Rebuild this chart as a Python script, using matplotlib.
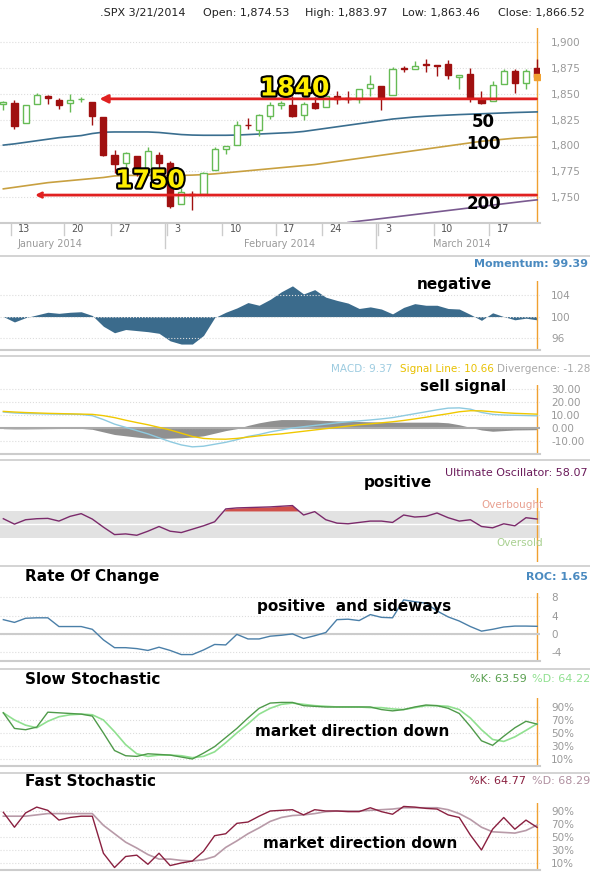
import matplotlib
matplotlib.use("Agg")
import matplotlib.pyplot as plt
import matplotlib.patheffects as pe
from matplotlib import font_manager
import numpy as np

W, H = 590, 882

# trading days 2014-01-10 .. 2014-03-21
opens = [1840, 1841, 1821.4, 1840.5, 1848, 1844.2, 1841, 1844.7, 1842.3, 1827, 1791, 1783, 1790, 1777, 1791,
         1782.7, 1743.8, 1753.4, 1753, 1776, 1796.2, 1800.5, 1820.1, 1814.9, 1828.5, 1839, 1838.8, 1829.2, 1841,
         1836.8, 1847.7, 1845.8, 1844.9, 1855.1, 1857.7, 1849.2, 1874, 1874.2, 1878.5, 1877.9, 1878.3, 1866.2,
         1869.1, 1845.1, 1842.8, 1858.9, 1872.3, 1860.1, 1874.5]
highs = [1843.2, 1843.5, 1839.3, 1850.8, 1848.6, 1846, 1849.3, 1846.9, 1842.3, 1827, 1796, 1793.9, 1790, 1798.8,
         1793.9, 1784.8, 1758.7, 1755.8, 1774.1, 1798, 1799.9, 1823.5, 1826.6, 1830.3, 1841.7, 1842.9, 1847.5,
         1842.1, 1846.5, 1858.7, 1852.9, 1852.7, 1854.5, 1867.9, 1857.7, 1876.2, 1876.5, 1881.9, 1883.6, 1877.9,
         1882.4, 1868.4, 1874.4, 1852.4, 1862.3, 1873.8, 1874.1, 1873.5, 1884]
lows = [1834, 1815.5, 1821.4, 1840, 1840, 1835, 1832, 1842, 1820, 1790, 1772.9, 1779.5, 1770.5, 1777, 1772.3,
        1739.7, 1743.8, 1737.9, 1753, 1776, 1791.8, 1800.5, 1816, 1809.2, 1825.6, 1835, 1827, 1824.9, 1835.6,
        1836.8, 1840.2, 1840.7, 1841.1, 1847.7, 1834.4, 1849.2, 1871.3, 1874.2, 1870.6, 1867, 1863.9, 1854.4,
        1841.9, 1839.6, 1842.8, 1858.9, 1850.4, 1854.6, 1863.5]
closes = [1842.4, 1819.2, 1838.9, 1848.4, 1845.9, 1838.7, 1843.8, 1844.9, 1828.5, 1790.3, 1781.6, 1792.5, 1774.2,
          1794.2, 1782.6, 1741.9, 1755.2, 1751.6, 1773.4, 1797, 1799.8, 1819.8, 1819.3, 1829.8, 1838.6, 1840.8,
          1828.8, 1839.8, 1836.3, 1847.6, 1845.1, 1845.2, 1854.3, 1859.5, 1845.7, 1873.9, 1873.8, 1877, 1878,
          1877.2, 1867.6, 1868.2, 1846.3, 1841.1, 1858.8, 1872.3, 1860.8, 1872, 1866.5]
ma50 = [1800.3, 1801.5, 1803, 1804.5, 1806, 1807.5, 1808.5, 1809.5, 1811.5, 1812.8, 1813, 1813, 1813, 1813, 1812.5,
        1811.5, 1810.5, 1810, 1809.8, 1809.8, 1809.8, 1810, 1810.5, 1811, 1811.5, 1812, 1812.5, 1813.5, 1815,
        1816.5, 1818, 1819.5, 1821, 1822.5, 1824, 1825.5, 1826.5, 1827.5, 1828.2, 1828.8, 1829.3, 1829.8, 1830.2,
        1830.6, 1831, 1831.4, 1831.8, 1832.1, 1832.4]
ma100 = [1758, 1759.5, 1761, 1762.5, 1764, 1765, 1766, 1767, 1768, 1769, 1770.5, 1771, 1771, 1771, 1771, 1771,
         1771, 1771.3, 1771.8, 1772.5, 1773.5, 1774.5, 1775.5, 1776.5, 1777.5, 1778.5, 1779.5, 1780.5, 1781.5,
         1783, 1784.5, 1786, 1787.5, 1789, 1790.5, 1792, 1793.5, 1795, 1796.5, 1798, 1799.5, 1801, 1802.5, 1804,
         1805, 1806, 1807, 1807.6, 1808.2]
ma200 = [np.nan] * 31 + [1725.5, 1726.8, 1728, 1729.3, 1730.6, 1731.9, 1733.2, 1734.5, 1735.8, 1737.1, 1738.4,
                         1739.7, 1741, 1742.3, 1743.6, 1744.9, 1746.2, 1747.4]

momentum = [100, 99, 99.8, 100.3, 100.8, 100.6, 100.8, 100.9, 100.2, 98.2, 97, 97.6, 97.4, 97.2, 96.9, 95.5, 94.9,
            94.9, 96.5, 99.8, 100.8, 101.6, 102.6, 102.1, 103.2, 104.6, 105.7, 104.2, 105, 103.6, 103, 102.5, 101.5,
            101.8, 101.4, 100.5, 101.7, 102.4, 102.1, 102.1, 101.5, 101.4, 100.4, 99.3, 100.7, 100, 99.4, 99.7, 99.39]
macd = [12.3, 11.6, 11.2, 11, 10.8, 10.7, 10.6, 10.4, 9.5, 6.5, 3, 0.5, -2, -4.5, -7.5, -10.5, -13, -14.5, -14,
        -12.5, -11, -9, -6.5, -5, -3, -1.5, 0, 1, 2, 3, 4, 4.8, 5.5, 6.2, 7, 8, 9.5, 11, 12.5, 14, 15.3, 15.5, 14.5,
        12, 10.5, 10, 9.8, 9.6, 9.37]
signal = [12.8, 12.3, 11.9, 11.6, 11.3, 11.1, 10.9, 10.7, 10.5, 9.5, 8, 6, 4.2, 2.5, 0.5, -1.5, -4, -6.5, -8, -8.5,
          -8.6, -8, -7, -6, -5.2, -4.5, -3.5, -2.5, -1.5, -0.5, 0.5, 1.5, 2.5, 3.2, 4, 4.8, 5.8, 7, 8.3, 9.7, 11,
          12.5, 13.3, 13.2, 12.5, 11.8, 11.3, 11, 10.66]
divergence = [-0.5, -0.7, -0.7, -0.6, -0.5, -0.4, -0.3, -0.3, -1, -3, -5, -6, -7, -7.8, -8, -7.8, -7.5, -7, -6,
              -4, -2, -0.5, 2, 4, 5.5, 6.5, 6.5, 6.5, 6.2, 5.8, 5.5, 5.2, 5, 4.8, 4.6, 4.5, 4.5, 4.5, 4.5, 4.5, 4,
              2.5, 0.5, -1.5, -2.5, -2, -1.5, -1.4, -1.28]
uo = [58.5, 50.5, 57, 58.5, 59, 55, 62, 66, 58, 46, 35, 36, 34, 40, 47, 40, 38, 43, 48, 54, 73, 74.5, 75, 75.5, 76,
      77, 78, 64, 69, 57, 52, 51, 53, 55, 55, 53, 64, 61, 62, 67, 60, 55, 57, 47, 45, 51, 48, 60, 58.07]
roc = [3.1, 2.5, 3.4, 3.5, 3.5, 1.6, 1.6, 1.6, 1, -1.3, -3, -3, -3.2, -3.6, -2.9, -3.6, -4.5, -4.5, -3.5, -2.3,
       -2.4, -0.1, -1.1, -1.1, -0.5, -0.3, 0, -1, -0.4, 0.3, 3.1, 3.2, 2.9, 4.2, 3.6, 3.5, 7.4, 7, 6.7, 5, 3.7, 2.8,
       1.6, 0.6, 1, 1.5, 1.7, 1.7, 1.65]
slow_k = [81, 57, 55, 59, 82, 81, 80, 79, 76, 50, 23, 15, 14, 18, 17, 16, 13, 10, 19, 29, 43, 57, 73, 88, 96, 97, 97,
          92, 91, 90, 90, 90, 90, 90, 86, 84, 86, 90, 93, 92, 88, 80, 60, 38, 31, 45, 58, 68, 63.59]
slow_d = [81, 70, 62, 58, 68, 75, 78, 79, 78, 70, 52, 32, 18, 14, 16, 16, 15, 12, 14, 21, 35, 50, 64, 79, 88, 94, 96,
          94, 92, 91, 90, 90, 90, 89, 89, 87, 86, 89, 92, 92, 91, 86, 73, 55, 40, 37, 44, 54, 64.22]
fast_k = [88, 65, 87, 96, 91, 76, 80, 82, 82, 25, 3, 20, 22, 8, 25, 6, 10, 13, 28, 52, 55, 71, 73, 82, 90, 91, 92, 84,
          92, 90, 90, 89, 89, 95, 89, 85, 97, 96, 94, 93, 84, 80, 53, 30, 62, 80, 62, 76, 64.77]
fast_d = [82, 82, 82, 84, 86, 86, 86, 86, 86, 68, 55, 42, 33, 23, 16, 16, 14, 13, 15, 20, 34, 44, 55, 64, 74, 80, 83,
          84, 86, 89, 90, 90, 90, 91, 92, 93, 95, 95, 95, 95, 92, 86, 77, 65, 58, 57, 56, 60, 68.29]

day_ticks = [1, 5.8, 10, 15, 20, 24.8, 29, 34, 39, 44]
day_labels = ["13", "20", "27", "3", "10", "17", "24", "3", "10", "17"]
months = ["January 2014", "February 2014", "March 2014"]
month_x = [50, 280, 462]

# narrow bold font for the hand-written notes
names = {f.name for f in font_manager.fontManager.ttflist}
NOTE = ["Liberation Sans Narrow"] if "Liberation Sans Narrow" in names else ["DejaVu Sans"]
NOTE_FS = 13 if NOTE[0] == "Liberation Sans Narrow" else 11

x = np.arange(len(closes))
fig = plt.figure(figsize=(W / 100, H / 100), dpi=100)
GRAY = "#999999"
ORANGE = "#f0a030"
AX_W = 540
XL = (-0.3, -0.3 + AX_W / 11.12)


def px_axes(top, bottom, ylim, ticks, labels):
    ax = fig.add_axes([0, 1 - bottom / H, AX_W / W, (bottom - top) / H])
    ax.set_xlim(*XL)
    ax.set_ylim(*ylim)
    for s in ["top", "left", "right"]:
        ax.spines[s].set_visible(False)
    ax.spines["bottom"].set_color("#cccccc")
    ax.spines["bottom"].set_linewidth(1.5)
    ax.set_xticks([])
    ax.yaxis.tick_right()
    ax.set_yticks(ticks)
    ax.set_yticklabels(labels, fontsize=7.5, color=GRAY)
    ax.tick_params(axis="y", length=0, pad=8)
    ax.grid(axis="y", color="#dddddd", linestyle=":", linewidth=0.8)
    ax.axvline(48, color=ORANGE, lw=1)
    ax.set_facecolor("none")
    return ax


def sep(y):
    fig.add_artist(plt.Line2D([0, 1], [1 - y / H, 1 - y / H], color="#cccccc", lw=1.2))


def label(xp, yp, s, **kw):
    fig.text(xp / W, 1 - yp / H, s, va="center", **kw)


def note(xp, yp, s, ha="center"):
    label(xp, yp, s, fontsize=NOTE_FS, fontweight="bold", ha=ha, family=NOTE)


# header
hdr = [(100, ".SPX 3/21/2014"), (203, "Open: 1,874.53"), (305, "High: 1,883.97"),
       (402, "Low: 1,863.46"), (498, "Close: 1,866.52")]
for hx, s in hdr:
    label(hx, 13, s, fontsize=8, color="#222222")

# price panel
ax = px_axes(28, 223, (1725, 1913.5), [1750, 1775, 1800, 1825, 1850, 1875, 1900],
             ["1,750", "1,775", "1,800", "1,825", "1,850", "1,875", "1,900"])
ax.plot(x, ma50, color="#3a6e8f", lw=1.2)
ax.plot(x, ma100, color="#c8a040", lw=1.2)
ax.plot(x, ma200, color="#7a5a90", lw=1.2)
for i in range(len(closes)):
    up = closes[i] >= opens[i]
    col = "#66bb55" if up else "#a01010"
    ax.vlines(i, lows[i], highs[i], color=col, lw=1)
    lo, hi = min(opens[i], closes[i]), max(opens[i], closes[i])
    ax.bar(i, max(hi - lo, 0.6), bottom=lo, width=0.55, color="white" if up else col,
           edgecolor=col, lw=1, zorder=3)
ax.plot(48, closes[-1], "s", color="#f0a030", ms=4, zorder=4)
ax.annotate("", xy=(8.4, 1845), xytext=(48.2, 1845),
            arrowprops=dict(arrowstyle="-|>", color="#e02020", lw=2, mutation_scale=12))
ax.annotate("", xy=(2.6, 1752), xytext=(48.2, 1752),
            arrowprops=dict(arrowstyle="->", color="#e02020", lw=2, mutation_scale=8))
for tx, ty, s in [(26.2, 1855, "1840"), (13.2, 1766, "1750")]:
    ax.text(tx, ty, s, fontsize=18, fontweight="bold", color="#ffee00", ha="center", va="center",
            family=NOTE, path_effects=[pe.withStroke(linewidth=3, foreground="black")], zorder=5)
for tx, ty, s in [(43.2, 1823, "50"), (43.2, 1801, "100"), (43.2, 1743, "200")]:
    ax.text(tx, ty, s, fontsize=NOTE_FS + 1, fontweight="bold", color="black", ha="center", va="center",
            family=NOTE, zorder=5)
for t, s in zip(day_ticks, day_labels):
    ax.axvline(t - 0.3, ymin=-0.06, ymax=0, color="#cccccc", lw=1, clip_on=False)
    ax.text(t + 0.35, 1725 - 6, s, fontsize=7, color="#555555", ha="left", va="center")
for t in [14.55, 33.55]:
    ax.axvline(t, ymin=-0.13, ymax=0, color="#cccccc", lw=1, clip_on=False)
for mx, s in zip(month_x, months):
    label(mx, 244, s, fontsize=7, color=GRAY, ha="center")
sep(256)

# momentum
ax = px_axes(281, 350, (93.8, 106.6), [96, 100, 104], ["96", "100", "104"])
ax.fill_between(x, momentum, 100, color="#3b6b8c", lw=0)
label(588, 264, "Momentum: 99.39", fontsize=8, color="#4a8ac0", ha="right", fontweight="bold")
note(454, 284, "negative")
sep(356)

# MACD
ax = px_axes(385, 454, (-20, 33.1), [-10, 0, 10, 20, 30], ["-10.00", "0.00", "10.00", "20.00", "30.00"])
ax.fill_between(x, divergence, 0, color="#909090", lw=0)
ax.axhline(0, color="#aaaaaa", lw=1.5)
ax.plot(x, macd, color="#8ecae0", lw=1)
ax.plot(x, signal, color="#f0c800", lw=1)
label(590, 369, "Divergence: -1.28", fontsize=7.5, color="#aaaaaa", ha="right")
label(494, 369, "Signal Line: 10.66", fontsize=7.5, color="#e8c000", ha="right")
label(392, 369, "MACD: 9.37", fontsize=7.5, color="#9ccbe0", ha="right")
note(463, 386, "sell signal")
sep(460)

# Ultimate oscillator
ax = px_axes(488, 562, (-5.6, 104), [], [])
ax.grid(False)
ax.spines["bottom"].set_visible(False)
ax.axhspan(30, 70, color="#e2e2e2", lw=0)
ax.axhline(50, color="white", lw=1)
ax.fill_between(x, uo, 70, where=np.array(uo) > 70, interpolate=True, color="#d0504a", lw=0)
ax.plot(x, uo, color="#7b2a6b", lw=1)
label(588, 473, "Ultimate Oscillator: 58.07", fontsize=8, color="#6a1a5a", ha="right")
label(543, 505, "Overbought", fontsize=7.5, color="#e8a090", ha="right")
label(543, 543, "Oversold", fontsize=7.5, color="#a8d090", ha="right")
note(398, 482, "positive")
sep(566)

# ROC
ax = px_axes(593, 661, (-5.9, 8.9), [-4, 0, 4, 8], ["-4", "0", "4", "8"])
ax.axhline(0, color="#cccccc", lw=1.5)
ax.plot(x, roc, color="#4a7fa8", lw=1)
note(25, 577, "Rate Of Change", ha="left")
label(588, 577, "ROC: 1.65", fontsize=8, color="#4a8ac0", ha="right", fontweight="bold")
note(354, 606, "positive  and sideways")
sep(669)

pct = [10, 30, 50, 70, 90]
pct_l = ["10%", "30%", "50%", "70%", "90%"]
# slow stochastic
ax = px_axes(698, 766, (-0.8, 103.8), pct, pct_l)
ax.plot(x, slow_d, color="#90e090", lw=1.2)
ax.plot(x, slow_k, color="#4f9a4a", lw=1)
note(25, 679, "Slow Stochastic", ha="left")
label(590, 679, "%D: 64.22", fontsize=8, color="#90e090", ha="right")
label(527, 679, "%K: 63.59", fontsize=8, color="#5aa050", ha="right")
note(352, 732, "market direction down")
sep(773)

# fast stochastic
ax = px_axes(803, 870, (-0.8, 102.3), pct, pct_l)
ax.plot(x, fast_d, color="#b89aa8", lw=1.2)
ax.plot(x, fast_k, color="#8a2040", lw=1)
note(25, 781, "Fast Stochastic", ha="left")
label(590, 781, "%D: 68.29", fontsize=8, color="#b090a0", ha="right")
label(526, 781, "%K: 64.77", fontsize=8, color="#8a2040", ha="right")
note(360, 843, "market direction down")

fig.savefig("out.png", dpi=100)
